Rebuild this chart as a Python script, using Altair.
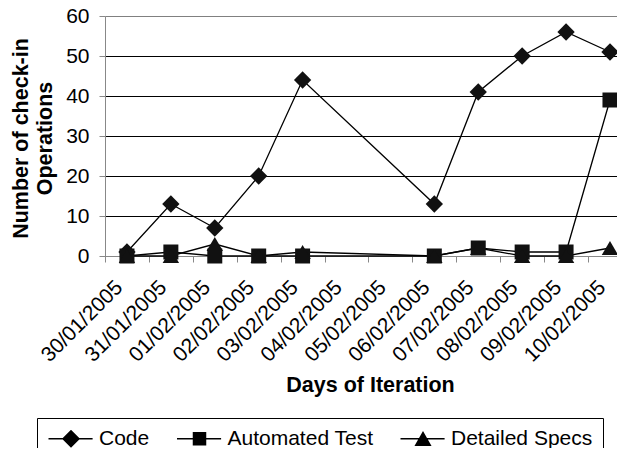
import json
import altair as alt
import pandas as pd

dates = ["30/01/2005", "31/01/2005", "01/02/2005", "02/02/2005", "03/02/2005",
         "04/02/2005", "05/02/2005", "06/02/2005", "07/02/2005", "08/02/2005",
         "09/02/2005", "10/02/2005"]
series = ["Code", "Automated Test", "Detailed Specs"]
code_vals = [1, 13, 7, 20, 44, None, None, 13, 41, 50, 56, 51]
auto_vals = [0, 1, 0, 0, 0, None, None, 0, 2, 1, 1, 39]
spec_vals = [0, 0, 3, 0, 1, None, None, 0, 2, 0, 0, 2]
y_ticks = [0, 10, 20, 30, 40, 50, 60]

rows = []
for name, vals in zip(series, [code_vals, auto_vals, spec_vals]):
    for i, v in enumerate(vals):
        if v is not None:
            rows.append({"idx": i, "date": dates[i], "series": name, "value": v})
df = pd.DataFrame(rows)

FONT = "Liberation Sans, Arial, sans-serif"

x = alt.X("idx:Q",
          scale=alt.Scale(domain=[-0.5, 11.16], nice=False, zero=False),
          axis=alt.Axis(
              values=[i - 0.5 for i in range(len(dates))],
              labelExpr=json.dumps(dates) + "[round(datum.value + 0.5)]",
              labelAngle=315, labelAlign="right", labelBaseline="middle",
              labelOffset=14, labelPadding=22, labelFontSize=21,
              labelOverlap=False, labelFlush=False, labelBound=False,
              tickSize=6, grid=False,
              title="Days of Iteration", titleFontSize=21.5, titleFontWeight="bold",
              titleX=265, titleY=135, titleBaseline="alphabetic", titleAnchor="start",
              titleAlign="center"))
y = alt.Y("value:Q",
          scale=alt.Scale(domain=[0, 60], nice=False),
          axis=alt.Axis(
              values=y_ticks, labelFontSize=21, labelPadding=10, tickSize=6,
              grid=True,
              gridColor={"condition": {"test": "datum.value == 60", "value": "#808080"},
                         "value": "black"},
              gridWidth=1,
              title=["Number of check-in", "Operations"], titleFontSize=21.5,
              titleFontWeight="bold", titleLineHeight=24,
              titleX=-78, titleY=122, titleBaseline="alphabetic", titleAlign="center",
              titleAngle=270))

base = alt.Chart(df)

lines = base.mark_line(color="black", strokeWidth=1.3).encode(
    x=x, y=y, detail="series:N", order="idx:Q")

def pts(name, shape, size):
    return base.transform_filter(alt.datum.series == name).mark_point(
        shape=shape, filled=True, color="#111111", size=size, opacity=1
    ).encode(x=x, y=y)

p_code = pts("Code", "diamond", 300)
p_auto = pts("Automated Test", "square", 225)
p_spec = pts("Detailed Specs", "triangle-up", 270)

# legend symbols: thin filled bar (the line) plus the marker
bar = "M-1,-0.075L3.9,-0.075L3.9,0.075L-1,0.075Z"
leg_paths = [
    bar + "M1.5,-1L2.5,0L1.5,1L0.5,0Z",
    bar + "M0.75,-0.75L2.25,-0.75L2.25,0.75L0.75,0.75Z",
    bar + "M1.5,-0.85L2.45,0.8L0.55,0.8Z",
]
legend_layer = base.transform_filter("false").mark_point(
    filled=True, color="black", opacity=1
).encode(
    x=x, y=y,
    shape=alt.Shape("series:N",
                    scale=alt.Scale(domain=series, range=leg_paths),
                    legend=alt.Legend(
                        title=None, orient="none", legendX=-68, legendY=402,
                        direction="horizontal", columns=3, columnPadding=25.5,
                        symbolSize=324, symbolFillColor="black",
                        symbolStrokeWidth=0, symbolOpacity=1,
                        labelOffset=31, labelFontSize=21, labelFont=FONT,
                        labelColor="black", labelLimit=200,
                        padding=10, strokeColor="black", fillColor="white",
                        rowPadding=0)))

chart = alt.layer(lines, p_code, p_auto, p_spec, legend_layer).properties(
    width=512, height=240,
    autosize=alt.AutoSizeParams(type="none"),
    padding={"left": 97, "top": 8, "right": 0, "bottom": 192},
).configure_view(fill="#d0d0d0", stroke=None).configure_axis(
    labelFont=FONT, titleFont=FONT, labelColor="black", titleColor="black",
    domainColor="black", tickColor="black", domainWidth=1, tickWidth=1
).configure(background="white")

chart.save("out.html", embed_options={"renderer": "svg", "actions": False})
